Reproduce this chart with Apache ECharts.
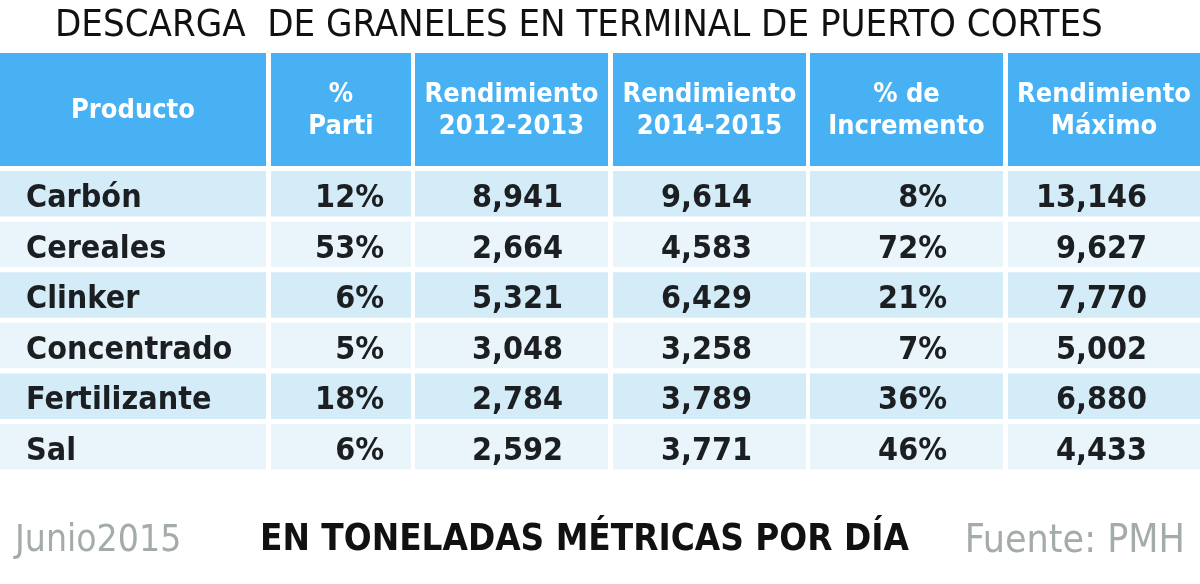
<!DOCTYPE html>
<html><head><meta charset="utf-8">
<script src="https://cdn.jsdelivr.net/npm/echarts@6/dist/echarts.min.js"></script>
<style>html,body{margin:0;padding:0;background:#fff}#c{width:1200px;height:584px}</style>
</head><body><div id="c"></div>
<script>
// ---- data ----
const titulo = 'DESCARGA  DE GRANELES EN TERMINAL DE PUERTO CORTES';
const encabezados = ['Producto', '%\nParti', 'Rendimiento\n2012-2013', 'Rendimiento\n2014-2015', '% de\nIncremento', 'Rendimiento\nMáximo'];
const productos = ['Carbón', 'Cereales', 'Clinker', 'Concentrado', 'Fertilizante', 'Sal'];
const parti = [12, 53, 6, 5, 18, 6];
const rend2012 = [8941, 2664, 5321, 3048, 2784, 2592];
const rend2014 = [9614, 4583, 6429, 3258, 3789, 3771];
const incremento = [8, 72, 21, 7, 36, 46];
const rendMax = [13146, 9627, 7770, 5002, 6880, 4433];
const fecha = 'Junio2015';
const unidades = 'EN TONELADAS MÉTRICAS POR DÍA';
const fuente = 'Fuente: PMH';

// ---- layout ----
const FONT = "'Liberation Sans Narrow', 'DejaVu Sans Condensed', 'Open Sans', sans-serif";
const colEdges = [[0, 266], [271, 411], [415, 608], [613, 806], [810, 1003], [1008, 1200]];
const textAnchor = [26, 384, 563, 752, 947, 1147];
const headTop = 53, headBot = 166;
const rowTop0 = 171, rowPitch = 50.6, rowH = 45.5;

const fmt = v => v.toLocaleString('en-US');
const pct = v => v + '%';
const columnas = [productos, parti.map(pct), rend2012.map(fmt), rend2014.map(fmt), incremento.map(pct), rendMax.map(fmt)];

const cells = [];
encabezados.forEach((h, c) => cells.push({ value: [c, -1], name: h }));
productos.forEach((p, r) => columnas.forEach((col, c) => cells.push({ value: [c, r], name: col[r] })));

const chart = echarts.init(document.getElementById('c'), null, { renderer: 'canvas' });
chart.setOption({
  animation: false,
  backgroundColor: '#ffffff',
  title: [
    { text: titulo, left: 50, top: 2, textStyle: { fontFamily: FONT, fontSize: 38, fontWeight: 'normal', color: '#111111' } }
  ],
  graphic: [
    { type: 'text', left: 15, top: 523, style: { text: fecha, fontFamily: FONT, fontSize: 37, fill: '#a3abab' } },
    { type: 'text', left: 260, top: 522, style: { text: unidades, fontFamily: FONT, fontSize: 36.5, fontWeight: 'bold', fill: '#111111' } },
    { type: 'text', right: 15, top: 522, style: { text: fuente, fontFamily: FONT, fontSize: 39, fill: '#a3abab' } }
  ],
  grid: { left: 0, right: 0, top: 0, bottom: 0 },
  xAxis: { type: 'value', min: 0, max: 1200, show: false },
  yAxis: { type: 'value', min: 0, max: 584, inverse: true, show: false },
  series: [{
    type: 'custom',
    coordinateSystem: 'cartesian2d',
    data: cells,
    renderItem: function (params, api) {
      const c = api.value(0), r = api.value(1);
      const txt = cells[params.dataIndex].name;
      const isHead = r < 0;
      const y0 = isHead ? headTop : rowTop0 + r * rowPitch;
      const y1 = isHead ? headBot : y0 + rowH;
      const p0 = api.coord([colEdges[c][0], y0]);
      const p1 = api.coord([colEdges[c][1], y1]);
      const fill = isHead ? '#47b1f3' : (r % 2 === 0 ? '#d4ebf8' : '#eaf5fb');
      let tx, align;
      if (isHead) { tx = (p0[0] + p1[0]) / 2; align = 'center'; }
      else if (c === 0) { tx = api.coord([textAnchor[0], 0])[0]; align = 'left'; }
      else { tx = api.coord([textAnchor[c], 0])[0]; align = 'right'; }
      const ty = (p0[1] + p1[1]) / 2 + (isHead ? 1 : 5);
      return {
        type: 'group',
        children: [
          { type: 'rect', shape: { x: p0[0], y: p0[1], width: p1[0] - p0[0], height: p1[1] - p0[1] }, style: { fill: fill } },
          { type: 'text', style: {
              text: txt, x: tx, y: ty, align: align, verticalAlign: 'middle',
              fill: isHead ? '#ffffff' : '#1c1f22',
              fontFamily: FONT, fontWeight: 'bold', fontSize: isHead ? 27 : 32, lineHeight: isHead ? 32 : 36
          } }
        ]
      };
    }
  }]
});
</script></body></html>
